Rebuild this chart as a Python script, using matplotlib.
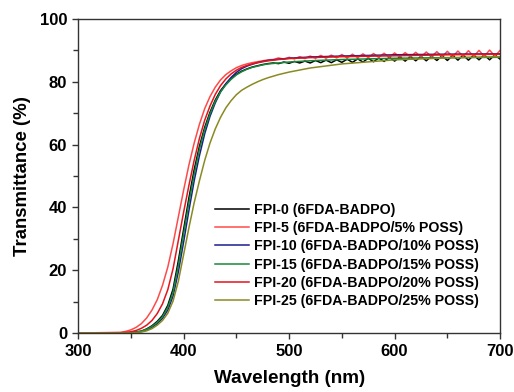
import matplotlib
matplotlib.use('Agg')
import matplotlib.pyplot as plt
from matplotlib.ticker import MultipleLocator

# rise region, shared wavelength grid (nm)
wl_rise = [300, 340, 345, 350, 355, 360, 365, 370, 375, 380, 385, 390, 395, 400,
           405, 410, 415, 420, 425, 430, 435, 440, 445, 450, 455, 460, 465, 470,
           475, 480]
# tail grids: coarse for smooth curves, fine for curves with fringes
wl_tail = [490, 500, 520, 550, 600, 650, 700]
wl_fine = list(range(485, 701, 5))

labels = ['FPI-0 (6FDA-BADPO)', 'FPI-5 (6FDA-BADPO/5% POSS)',
          'FPI-10 (6FDA-BADPO/10% POSS)', 'FPI-15 (6FDA-BADPO/15% POSS)',
          'FPI-20 (6FDA-BADPO/20% POSS)', 'FPI-25 (6FDA-BADPO/25% POSS)']
colors = ['#000000', '#ff4a4a', '#1c1c8e', '#17883a', '#e3141c', '#8a8a22']

fpi0_rise = [0, 0, 0, 0.1, 0.3, 0.6, 1.3, 2.3, 3.7, 5.6, 8.8, 14.0, 23.0, 33.0,
             43.0, 52.0, 59.5, 65.5, 70.3, 74.2, 77.2, 79.3, 81.0, 82.4, 83.4,
             84.1, 84.7, 85.1, 85.5, 85.8]
fpi0_tail = [86.0, 85.8, 86.3, 85.9, 86.5, 86.0, 86.6, 86.0, 86.8, 86.1, 86.9,
             86.1, 87.0, 86.2, 87.2, 86.2, 87.3, 86.3, 87.5, 86.4, 87.6, 86.5,
             87.8, 86.6, 87.9, 86.6, 88.0, 86.7, 88.1, 86.7, 88.2, 86.8, 88.3,
             86.8, 88.4, 86.9, 88.5, 86.9, 88.5, 87.0, 88.6, 87.0, 88.6, 87.2]

fpi5_rise = [0, 0.2, 0.5, 1.0, 1.8, 3.0, 4.8, 7.3, 10.6, 15.2, 21.0, 28.5, 37.0,
             45.5, 53.5, 60.5, 66.5, 71.5, 75.3, 78.3, 80.6, 82.3, 83.5, 84.5,
             85.2, 85.7, 86.1, 86.4, 86.7, 87.0]
fpi5_tail = [87.1, 87.6, 87.2, 87.8, 87.3, 88.0, 87.4, 88.2, 87.5, 88.4, 87.5,
             88.5, 87.6, 88.7, 87.6, 88.8, 87.7, 88.9, 87.7, 89.0, 87.8, 89.1,
             87.8, 89.2, 87.9, 89.3, 87.9, 89.4, 87.9, 89.5, 88.0, 89.6, 88.0,
             89.7, 88.0, 89.8, 88.1, 89.9, 88.1, 90.0, 88.1, 90.1, 88.2, 90.0]

fpi10_rise = [0, 0, 0, 0, 0.2, 0.5, 1.0, 1.8, 3.0, 4.7, 7.3, 11.8, 19.5, 29.0,
              39.0, 48.5, 56.5, 63.5, 69.0, 73.3, 76.8, 79.4, 81.4, 83.0, 84.2,
              85.0, 85.6, 86.1, 86.5, 86.8]
fpi10_tail = [87.2, 87.5, 87.9, 88.2, 88.6, 88.8, 88.9]

fpi15_rise = [0, 0, 0, 0.1, 0.3, 0.6, 1.2, 2.1, 3.4, 5.2, 8.2, 13.0, 21.5, 31.5,
              41.5, 50.5, 58.5, 64.8, 69.8, 73.8, 76.8, 79.0, 80.8, 82.2, 83.2,
              84.0, 84.6, 85.0, 85.4, 85.7]
fpi15_tail = [86.0, 86.3, 86.7, 87.1, 87.5, 87.7, 87.8]

fpi20_rise = [0, 0.1, 0.2, 0.4, 0.8, 1.5, 2.5, 4.0, 6.2, 9.3, 13.8, 20.5, 29.5,
              38.5, 47.0, 55.0, 62.0, 67.8, 72.3, 76.0, 78.8, 80.9, 82.5, 83.7,
              84.6, 85.2, 85.7, 86.1, 86.4, 86.7]
fpi20_tail = [87.1, 87.4, 87.7, 88.0, 88.3, 88.6, 88.8]

fpi25_rise = [0, 0, 0, 0, 0.1, 0.3, 0.7, 1.4, 2.5, 4.0, 6.3, 10.2, 16.5, 25.0,
              33.5, 41.5, 48.5, 55.0, 60.5, 65.0, 68.7, 71.7, 74.0, 75.9, 77.3,
              78.3, 79.2, 80.0, 80.7, 81.3]
fpi25_tail = [82.3, 83.1, 84.4, 85.7, 87.0, 87.6, 88.0]

series = [
    (wl_rise + wl_fine, fpi0_rise + fpi0_tail),
    (wl_rise + wl_fine, fpi5_rise + fpi5_tail),
    (wl_rise + wl_tail, fpi10_rise + fpi10_tail),
    (wl_rise + wl_tail, fpi15_rise + fpi15_tail),
    (wl_rise + wl_tail, fpi20_rise + fpi20_tail),
    (wl_rise + wl_tail, fpi25_rise + fpi25_tail),
]

plt.rcParams['font.family'] = ['Liberation Sans', 'DejaVu Sans']
plt.rcParams['font.weight'] = 'bold'

fig = plt.figure(figsize=(5.14, 3.92), dpi=100)
ax = fig.add_axes([0.152, 0.1505, 0.821, 0.801])

for (x, y), lab, c in zip(series, labels, colors):
    ax.plot(x, y, '-', color=c, linewidth=1.1, label=lab)

ax.set_xlim(300, 700)
ax.set_ylim(0, 100)
ax.xaxis.set_major_locator(MultipleLocator(100))
ax.xaxis.set_minor_locator(MultipleLocator(50))
ax.yaxis.set_major_locator(MultipleLocator(20))
ax.yaxis.set_minor_locator(MultipleLocator(10))
ax.tick_params(which='both', direction='out', top=False, right=False,
               labelsize=12, width=1.0, color='#333333')
ax.tick_params(which='major', length=4.5)
ax.tick_params(which='minor', length=3.5)
for s in ax.spines.values():
    s.set_linewidth(1.0)
    s.set_color('#333333')

ax.set_xlabel('Wavelength (nm)', fontsize=13.6, fontweight='bold', labelpad=8)
ax.set_ylabel('Transmittance (%)', fontsize=13.4, fontweight='bold', labelpad=6)

ax.legend(loc='upper left', bbox_to_anchor=(0.308, 0.437), frameon=False,
          fontsize=10.2, borderpad=0, handlelength=2.4, handletextpad=0.35,
          labelspacing=0.3)

fig.savefig('out.png', dpi=100)
